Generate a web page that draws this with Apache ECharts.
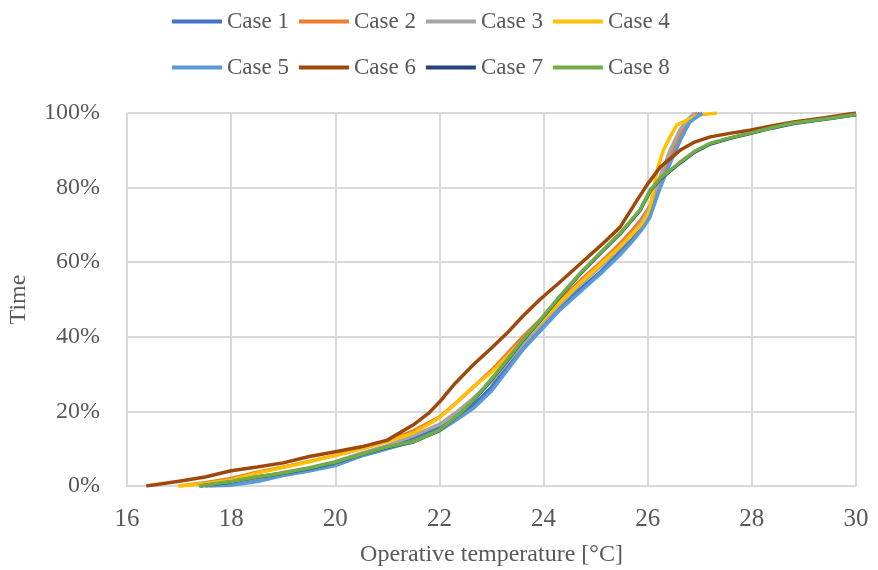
<!DOCTYPE html>
<html>
<head>
<meta charset="utf-8">
<script src="https://cdn.jsdelivr.net/npm/echarts@6/dist/echarts.min.js"></script>
<style>
html,body{margin:0;padding:0;background:#fff;}
#chart{width:878px;height:570px;}
</style>
</head>
<body>
<div id="chart"></div>
<script>
var seriesNames = ['Case 1','Case 2','Case 3','Case 4','Case 5','Case 6','Case 7','Case 8'];
var seriesColors = ['#4472C4','#ED7D31','#A5A5A5','#FFC000','#5B9BD5','#9E480E','#264478','#70AD47'];

var case1 = [[17.5,0],[18,0.5],[18.5,1.8],[19,3.2],[19.5,4.5],[20,6.1],[20.5,8.5],[21,10.5],[21.5,12.8],[22,15.5],[22.3,18],[22.65,21.5],[23,26.5],[23.3,32],[23.6,37],[23.93,42],[24.3,47.5],[24.7,52.8],[25.1,57.5],[25.47,62.8],[25.7,66],[25.9,70],[26.04,73],[26.24,81],[26.43,87.5],[26.62,93],[26.8,97.5],[27.0,100]];
var case2 = [[17.0,0],[17.5,0.9],[18,2],[18.5,3.7],[19,5.1],[19.5,6.6],[20,8.2],[20.5,10],[21,12],[21.5,14.8],[22,18.5],[22.3,22],[22.65,26.5],[23,31],[23.3,35.5],[23.6,40],[23.93,44.5],[24.3,49.5],[24.7,55],[25.1,60],[25.47,65],[25.7,68.5],[25.85,71],[26.04,75],[26.24,82],[26.43,88],[26.62,94],[26.8,98.5],[26.95,100]];
var case3 = [[17.4,0],[18,0.8],[18.5,2.2],[19,3.6],[19.5,4.9],[20,6.5],[20.5,8.8],[21,10.8],[21.5,13.5],[22,16.5],[22.3,19.5],[22.65,23.5],[23,28],[23.3,33],[23.6,38],[23.93,43],[24.3,48.5],[24.7,54],[25.1,59],[25.47,64],[25.7,67.5],[25.9,71],[26.04,75],[26.24,83],[26.43,90],[26.62,95.5],[26.75,98],[26.9,100]];
var case4 = [[16.98,0],[17.5,0.6],[18,1.6],[18.5,3.5],[19,5],[19.5,6.5],[20,8.2],[20.5,10],[21,11.9],[21.5,14.2],[22,18.3],[22.3,22],[22.65,26.6],[23,30.5],[23.3,34.7],[23.6,39],[23.93,43.7],[24.3,49],[24.7,54.4],[25.1,59.5],[25.47,64.2],[25.7,67.5],[25.91,70.5],[26.04,74],[26.18,84.7],[26.3,90],[26.43,93.6],[26.56,96.8],[26.75,98],[27.0,99.5],[27.33,100]];
var case5 = [[17.6,0],[18,0.2],[18.5,1.2],[19,2.8],[19.5,4.0],[20,5.5],[20.5,8],[21,10],[21.5,12],[22,14.8],[22.3,17.5],[22.65,20.8],[23,25.5],[23.3,31],[23.6,36.5],[23.93,41.5],[24.3,47],[24.7,52],[25.1,57],[25.47,62],[25.7,65.5],[25.9,69],[26.04,72],[26.24,80],[26.43,86.5],[26.62,92.5],[26.8,97.5],[27.05,100]];
var case6 = [[16.37,0],[17,1.3],[17.5,2.4],[18,4.1],[18.5,5.1],[19,6.2],[19.5,7.9],[20,9.2],[20.5,10.5],[21,12.3],[21.5,16.4],[21.8,19.6],[22,22.5],[22.3,27.5],[22.65,32.5],[23,37],[23.3,41],[23.6,45.5],[23.93,50],[24.3,54.5],[24.7,59.5],[25.1,64.5],[25.47,69.4],[25.8,76.7],[26,81],[26.24,85.5],[26.62,90],[26.9,92.2],[27.2,93.6],[27.6,94.6],[27.96,95.4],[28.4,96.6],[28.8,97.6],[29.4,98.7],[30,100]];
var case7 = [[17.4,0],[18,1.1],[18.5,2.4],[19,3.4],[19.5,4.7],[20,6.3],[20.5,8.4],[21,10.4],[21.5,11.8],[22,14.9],[22.43,19.8],[22.65,22.8],[23,28.5],[23.3,33.6],[23.6,39],[23.93,44.3],[24.3,50.5],[24.7,56.8],[25.1,62.5],[25.47,67.6],[25.85,73.8],[26.05,79.2],[26.24,82.3],[26.62,86.6],[26.9,89.5],[27.2,91.7],[27.6,93.3],[27.96,94.5],[28.4,96],[28.8,97.2],[29.4,98.3],[30,99.5]];
var case8 = [[17.38,0],[18,1.2],[18.5,2.5],[19,3.5],[19.5,4.8],[20,6.4],[20.5,8.5],[21,10.5],[21.5,11.9],[22,15],[22.43,19.9],[22.65,23],[23,28.7],[23.3,33.8],[23.6,39.2],[23.93,44.5],[24.3,50.7],[24.7,57],[25.1,62.7],[25.47,67.8],[25.85,74],[26.05,79.4],[26.24,82.5],[26.62,86.8],[26.9,89.7],[27.2,91.9],[27.6,93.4],[27.96,94.6],[28.4,96.1],[28.8,97.3],[29.4,98.4],[30,99.6]];
var allData = [case1,case2,case3,case4,case5,case6,case7,case8];

var xTicks = {min:16, max:30, interval:2};
var yTicks = {min:0, max:100, interval:20};

var font = '"Liberation Serif","Times New Roman",serif';
var textColor = '#595959';

var chart = echarts.init(document.getElementById('chart'), null, {renderer:'canvas'});
var series = seriesNames.map(function(n,i){
  return {
    name:n, type:'line', data:allData[i], showSymbol:false, symbol:'none',
    lineStyle:{width:3.5, color:seriesColors[i]}, itemStyle:{color:seriesColors[i]},
    smooth:false, animation:false
  };
});
function legend(names, top){
  return {
    data:names, top:top, left:167, itemWidth:50, itemHeight:4, itemGap:10,
    icon:'rect', textStyle:{fontFamily:font, fontSize:23, color:textColor}
  };
}
chart.setOption({
  animation:false,
  backgroundColor:'#fff',
  legend:[legend(seriesNames.slice(0,4), 5), legend(seriesNames.slice(4), 51)],
  grid:{left:127, right:22, top:113, bottom:84, containLabel:false, outerBoundsMode:'none'},
  xAxis:{
    type:'value', min:xTicks.min, max:xTicks.max, interval:xTicks.interval,
    name:'Operative temperature [°C]', nameLocation:'middle', nameGap:57,
    nameTextStyle:{fontFamily:font, fontSize:24, color:textColor},
    axisLine:{show:true, lineStyle:{color:'#d9d9d9', width:2}},
    axisTick:{show:false},
    axisLabel:{fontFamily:font, fontSize:25, color:textColor, margin:21},
    splitLine:{show:true, lineStyle:{color:'#d9d9d9', width:2}}
  },
  yAxis:{
    type:'value', min:yTicks.min, max:yTicks.max, interval:yTicks.interval,
    name:'Time', nameLocation:'middle', nameGap:96, nameRotate:90,
    nameTextStyle:{fontFamily:font, fontSize:24, color:textColor},
    axisLine:{show:false}, axisTick:{show:false},
    axisLabel:{fontFamily:font, fontSize:24, color:textColor, margin:27, formatter:'{value}%'},
    splitLine:{show:true, lineStyle:{color:'#d9d9d9', width:2}}
  },
  series:series
});
</script>
</body>
</html>
